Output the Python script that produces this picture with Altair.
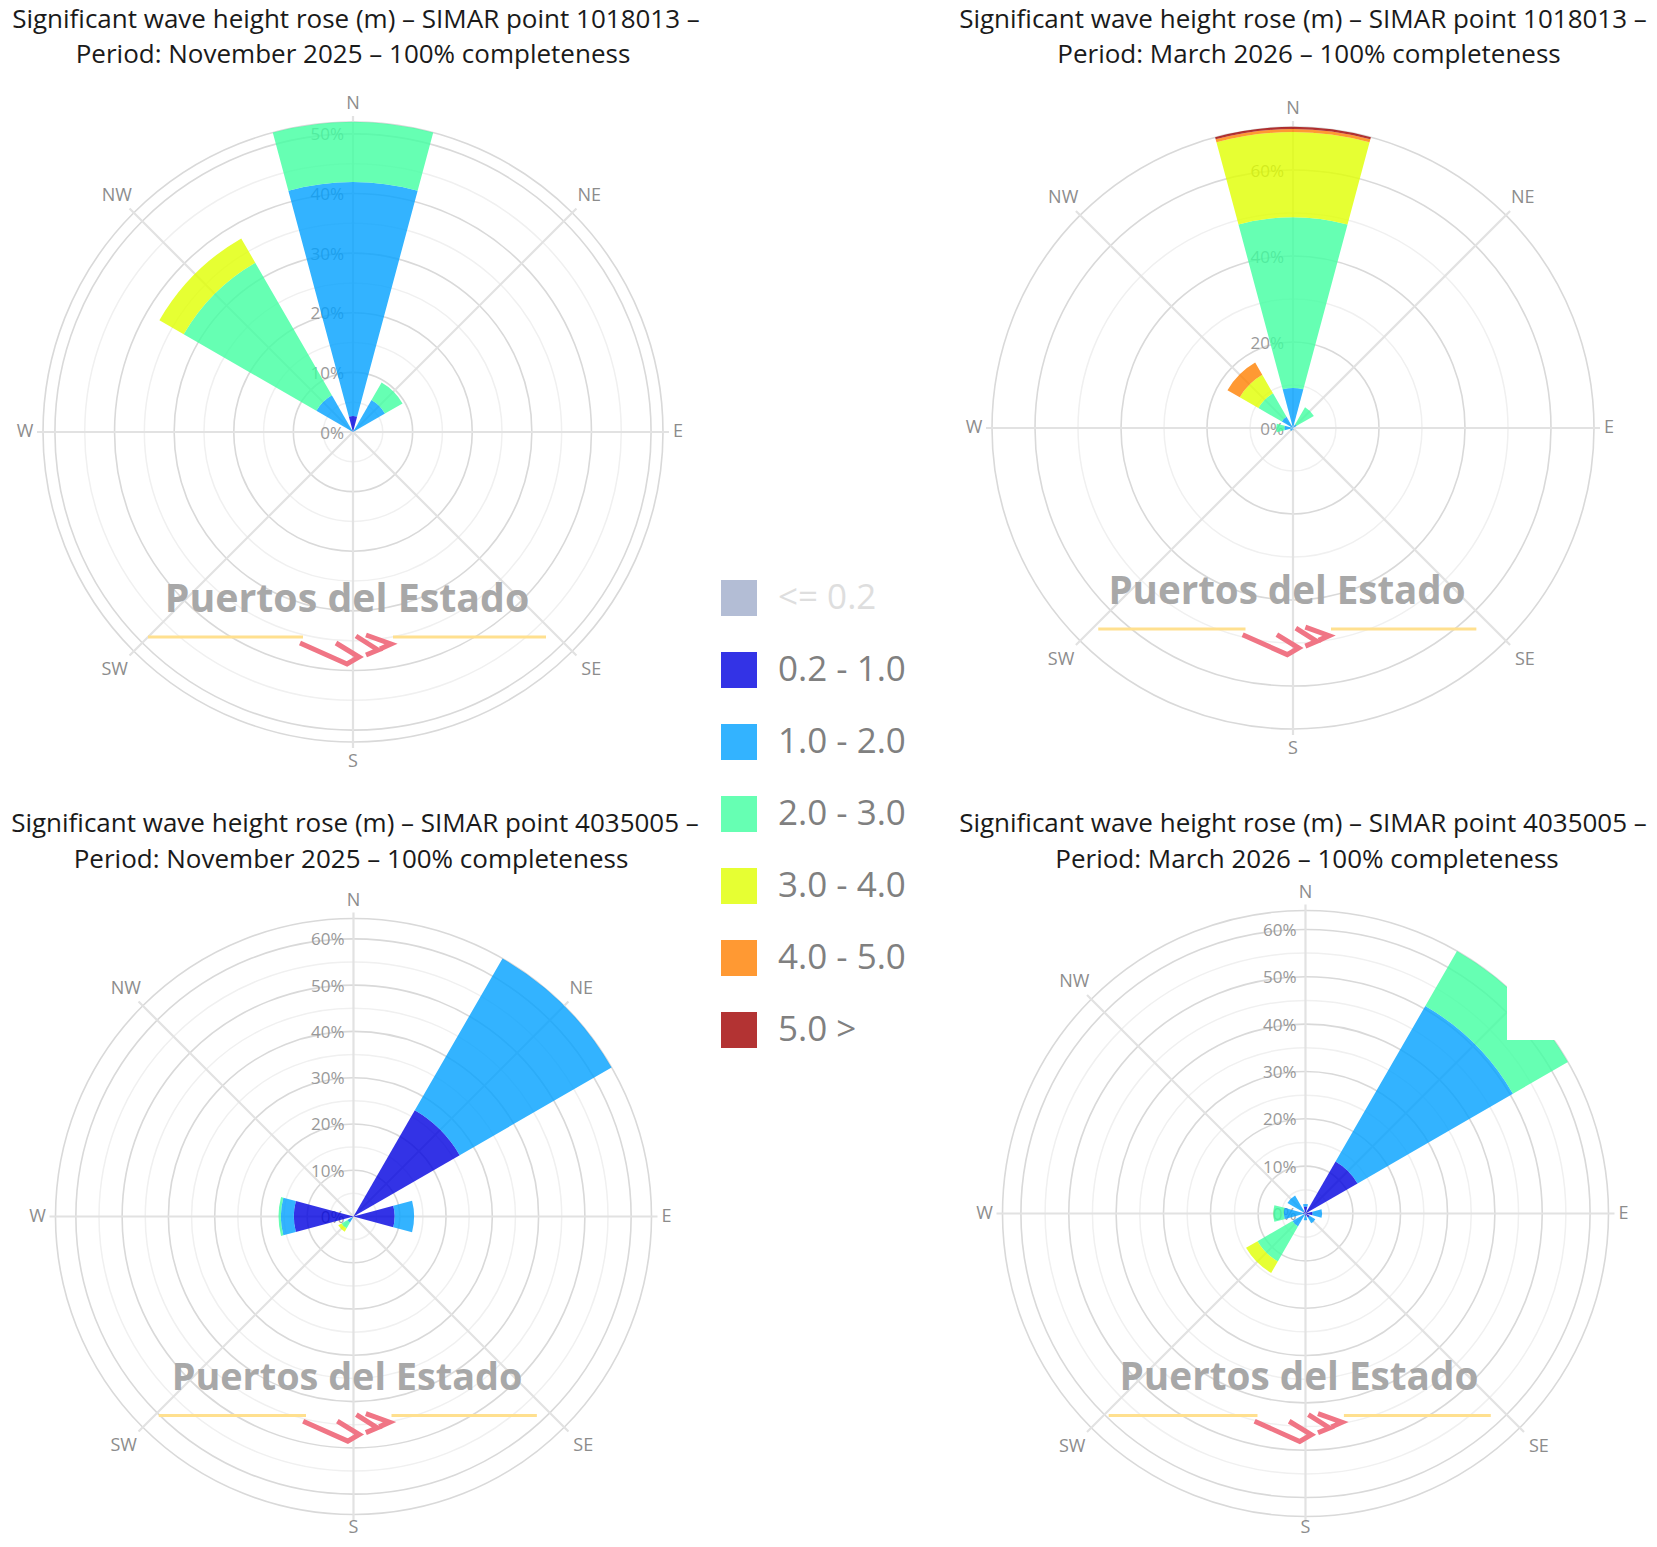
import math
import altair as alt
import pandas as pd

W, H = 1641, 1531
CLASSES = ["<= 0.2", "0.2 - 1.0", "1.0 - 2.0", "2.0 - 3.0", "3.0 - 4.0", "4.0 - 5.0", "5.0 >"]
COLORS = ["#a0acca", "#0000e0", "#00a0ff", "#40ffa0", "#e0ff00", "#ff8000", "#a00000"]
DIRS = ["N", "NE", "E", "SE", "S", "SW", "W", "NW"]
ANGLES = [0, 45, 90, 135, 180, 225, 270, 315]
COMPASS_PAD = [18, 24, 15, 27, 20, 27, 18, 24]

P1_VALUES = [
    [0, 2.7, 39.2, 10.1, 0, 0, 0],
    [0, 0, 6.2, 3.4, 0, 0, 0],
    [0, 0, 0, 0, 0, 0, 0],
    [0, 0, 0, 0, 0, 0, 0],
    [0, 0, 0, 0, 0, 0, 0],
    [0, 0, 0, 0, 0, 0, 0],
    [0, 0, 0, 0, 0, 0, 0],
    [0, 0, 7.1, 25.7, 4.7, 0, 0],
]
P2_VALUES = [
    [0, 0, 9.3, 39.7, 19.8, 0.7, 0.5],
    [0, 0, 1.0, 4.6, 0, 0, 0],
    [0, 0, 0, 0, 0, 0, 0],
    [0, 0, 0, 0, 0, 0, 0],
    [0, 0, 0.5, 0, 0, 0, 0],
    [0, 0, 0.8, 0, 0, 0, 0],
    [0, 0, 2.0, 1.9, 0, 0, 0],
    [0, 0, 3.0, 6.3, 5.0, 3.3, 0],
]
P3_VALUES = [
    [0, 0, 0, 0, 0, 0, 0],
    [0, 26.5, 37.9, 0, 0, 0, 0],
    [0, 8.9, 4.2, 0, 0, 0, 0],
    [0, 0, 0, 0, 0, 0, 0],
    [0, 0, 0, 0, 0, 0, 0],
    [0, 0.3, 1.2, 1.5, 0.8, 0, 0],
    [0, 12.9, 2.8, 0.5, 0, 0, 0],
    [0, 0, 0, 0, 0, 0, 0],
]
P4_VALUES = [
    [0, 1.5, 0.5, 0, 0, 0, 0],
    [0, 12.7, 37.9, 13.4, 0, 0, 0],
    [0, 1.5, 2.0, 0, 0, 0, 0],
    [0, 1.0, 1.4, 0, 0, 0, 0],
    [0, 0.5, 0.9, 0, 0, 0, 0],
    [0, 0, 3.2, 8.5, 2.8, 0, 0],
    [0, 0.5, 4.1, 2.2, 0, 0, 0],
    [0, 0.5, 3.9, 0, 0, 0, 0],
]

P1_LINES = ["Significant wave height rose (m) – SIMAR point 1018013 –", "Period: November 2025 – 100% completeness"]
P2_LINES = ["Significant wave height rose (m) – SIMAR point 1018013 –", "Period: March 2026 – 100% completeness"]
P3_LINES = ["Significant wave height rose (m) – SIMAR point 4035005 –", "Period: November 2025 – 100% completeness"]
P4_LINES = ["Significant wave height rose (m) – SIMAR point 4035005 –", "Period: March 2026 – 100% completeness"]

PANELS = [
    dict(values=P1_VALUES, lines=P1_LINES, cx=353, cy=432, R=310, vmax=52, major=[10, 20, 30, 40, 50], minor=[5, 15, 25, 35, 45],
         ticks=[0, 10, 20, 30, 40, 50], tx=[356, 353], ty=[20, 55], wx=347, wy=600, ly=637, lscale=1.0, wsize=39.3),
    dict(values=P2_VALUES, lines=P2_LINES, cx=1293, cy=428, R=301, vmax=70, major=[20, 40, 60], minor=[10, 30, 50],
         ticks=[0, 20, 40, 60], tx=[1303, 1309], ty=[20, 55], wx=1287, wy=592, ly=629, lscale=0.95, wsize=38.5),
    dict(values=P3_VALUES, lines=P3_LINES, cx=353.5, cy=1216.5, R=298, vmax=64.4, major=[10, 20, 30, 40, 50, 60], minor=[5, 15, 25, 35, 45, 55],
         ticks=[0, 10, 20, 30, 40, 50, 60], tx=[355, 351], ty=[824, 860], wx=347, wy=1379, ly=1415.5, lscale=0.95, wsize=37.8),
    dict(values=P4_VALUES, lines=P4_LINES, cx=1305.5, cy=1213.5, R=303, vmax=64, major=[10, 20, 30, 40, 50, 60], minor=[5, 15, 25, 35, 45, 55],
         ticks=[0, 10, 20, 30, 40, 50, 60], tx=[1303, 1307], ty=[824, 860], wx=1299, wy=1378, ly=1415.5, lscale=0.96, wsize=38.7),
]

# the publisher's logo, in its own units: red strokes relative to the spoke and the yellow rule
LOGO_RED = [
    [(-53, 6), (-6, 27), (6, 20), (-17, 6)],
    [(3, -1), (25, 13), (13, 18)],
    [(13, -2), (38, 7), (27, 12)],
]
LOGO_YELLOW = [(-205, -50), (40, 193)]

X = alt.Scale(domain=[8, 8 + W], range=[0, W], nice=False, zero=False)
Y = alt.Scale(domain=[8, 8 + H], range=[0, H], nice=False, zero=False)
THETA = alt.Scale(domain=[0, 360], range=[0, 2 * math.pi], nice=False, zero=False)
COLOR = alt.Color(
    "cls:N",
    scale=alt.Scale(domain=CLASSES, range=COLORS),
    legend=alt.Legend(
        title=None, orient="none", legendX=713, legendY=572, symbolType="square", symbolSize=1296,
        symbolStrokeWidth=0, labelFontSize=35, labelFont="Open Sans", labelOffset=21, rowPadding=36,
        labelColor=alt.ExprRef("datum.label == '<= 0.2' ? '#dedede' : '#808080'"),
    ),
)
ax = dict(axis=None)
layers = []

for p in PANELS:
    rad = alt.Scale(type="linear", domain=[0, p["vmax"]], range=[0, p["R"]], nice=False, zero=False)
    cx, cy, R = p["cx"], p["cy"], p["R"]
    xc = alt.X("cx:Q", scale=X, **ax)
    yc = alt.Y("cy:Q", scale=Y, **ax)

    # rings
    for vals, col, sw in ((p["minor"], "#f0f0f0", 1.5), (p["major"] + [p["vmax"]], "#d9d9d9", 1.6)):
        rings = pd.DataFrame({"r": vals, "cx": cx, "cy": cy, "t0": 0, "t1": 360})
        layers.append(alt.Chart(rings).mark_arc(filled=False, stroke=col, strokeWidth=sw).encode(
            x=xc, y=yc,
            theta=alt.Theta("t0:Q", scale=THETA), theta2=alt.Theta2("t1:Q"),
            radius=alt.Radius("r:Q", scale=rad),
        ))

    # spokes
    sp = pd.DataFrame({
        "cx": cx, "cy": cy,
        "ex": [cx + (R + 6) * math.sin(math.radians(a)) for a in ANGLES],
        "ey": [cy - (R + 6) * math.cos(math.radians(a)) for a in ANGLES],
    })
    layers.append(alt.Chart(sp).mark_rule(color="#e2e2e2", strokeWidth=2.2).encode(
        x=xc, y=yc, x2="ex:Q", y2="ey:Q"))

    # radial tick labels
    tk = pd.DataFrame({"v": p["ticks"], "label": [f"{v}%" for v in p["ticks"]], "cx": cx, "cy": cy, "t": 0})
    layers.append(alt.Chart(tk).mark_text(align="right", baseline="middle", dx=-9, dy=1.5, fontSize=17, font="Open Sans", color="#999999").encode(
        x=xc, y=yc, theta=alt.Theta("t:Q", scale=THETA), radius=alt.Radius("v:Q", scale=rad), text="label:N"))

    # compass labels, kept above the bottom edge of the page
    cp = pd.DataFrame({
        "d": DIRS, "a": ANGLES, "cx": cx, "cy": cy,
        "rp": [min(R + pad, 1528 - cy) if d == "S" else R + pad for d, pad in zip(DIRS, COMPASS_PAD)],
    })
    layers.append(alt.Chart(cp).mark_text(align="center", baseline="middle", fontSize=18, font="Open Sans", color="#8c8c8c").encode(
        x=xc, y=yc, theta=alt.Theta("a:Q", scale=THETA), radius=alt.Radius("rp:Q", scale=None), text="d:N"))

    # sectors
    rows = []
    for d, a, vals in zip(DIRS, ANGLES, p["values"]):
        base = 0.0
        for cls, v in zip(CLASSES, vals):
            if v > 0:
                rows.append(dict(dir=d, cls=cls, t0=a - 15, t1=a + 15, r0=base, r1=base + v, cx=cx, cy=cy))
            base += v
    layers.append(alt.Chart(pd.DataFrame(rows)).mark_arc(opacity=0.8).encode(
        x=xc, y=yc,
        theta=alt.Theta("t0:Q", scale=THETA), theta2=alt.Theta2("t1:Q"),
        radius=alt.Radius("r1:Q", scale=rad), radius2=alt.Radius2("r0:Q"),
        color=COLOR,
    ))

    # watermark text
    wm = pd.DataFrame({"x": [p["wx"]], "y": [p["wy"]], "t": ["Puertos del Estado"]})
    layers.append(alt.Chart(wm).mark_text(fontSize=p["wsize"], fontWeight="bold", font="Open Sans", color="#a8a8a8", baseline="middle").encode(
        x=alt.X("x:Q", scale=X, **ax), y=alt.Y("y:Q", scale=Y, **ax), text="t:N"))

    # watermark logo
    s = p["lscale"]
    yl = pd.DataFrame({
        "x": [cx + s * LOGO_YELLOW[0][0], cx + s * LOGO_YELLOW[1][0]],
        "x2": [cx + s * LOGO_YELLOW[0][1], cx + s * LOGO_YELLOW[1][1]],
        "y": [p["ly"]] * 2,
    })
    layers.append(alt.Chart(yl).mark_rule(color="#ffe08f", strokeWidth=3).encode(
        x=alt.X("x:Q", scale=X, **ax), x2="x2:Q", y=alt.Y("y:Q", scale=Y, **ax)))
    red = pd.DataFrame([
        dict(seg=i, o=j, x=cx + s * px, y=p["ly"] + s * py)
        for i, stroke in enumerate(LOGO_RED) for j, (px, py) in enumerate(stroke)
    ])
    layers.append(alt.Chart(red).mark_line(color="#f07585", strokeWidth=5, strokeJoin="miter").encode(
        x=alt.X("x:Q", scale=X, **ax), y=alt.Y("y:Q", scale=Y, **ax), detail="seg:N", order="o:Q"))

    # title lines
    tt = pd.DataFrame({"x": p["tx"], "y": p["ty"], "t": p["lines"]})
    layers.append(alt.Chart(tt).mark_text(fontSize=26, font="Open Sans", color="#1a1a1a", baseline="middle").encode(
        x=alt.X("x:Q", scale=X, **ax), y=alt.Y("y:Q", scale=Y, **ax), text="t:N"))

# blank patch pasted over the fourth rose in the source image
patch = pd.DataFrame({"x": [1507], "x2": [1590], "y": [950], "y2": [1040]})
layers.append(alt.Chart(patch).mark_rect(color="white").encode(
    x=alt.X("x:Q", scale=X, **ax), x2="x2:Q", y=alt.Y("y:Q", scale=Y, **ax), y2="y2:Q"))

chart = alt.layer(*layers).resolve_scale(radius="independent").properties(
    width=W, height=H, padding=0, autosize=alt.AutoSizeParams(type="none")
).configure_view(stroke=None)

chart.save("out.html", embed_options={"renderer": "svg", "actions": False})
